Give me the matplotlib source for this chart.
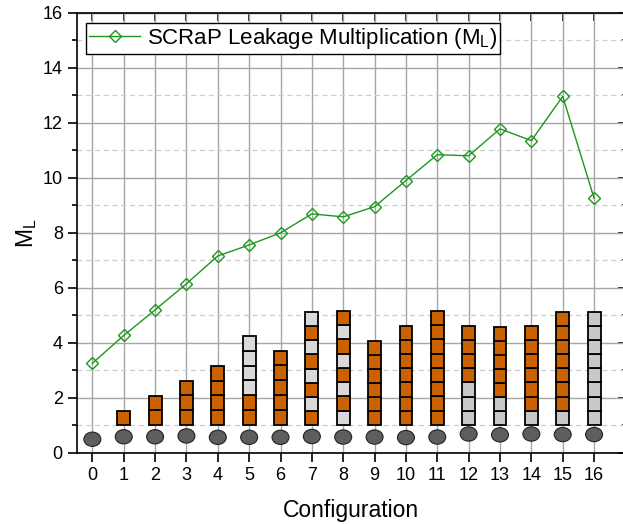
import matplotlib
matplotlib.use("Agg")
import matplotlib.pyplot as plt
from matplotlib.patches import Ellipse, Rectangle

plt.rcParams["font.family"] = ["Liberation Sans", "DejaVu Sans"]
plt.rcParams["mathtext.fontset"] = "custom"
plt.rcParams["mathtext.rm"] = "Liberation Sans"
plt.rcParams["mathtext.it"] = "Liberation Sans:italic"

# --- data ---
configs = list(range(17))
ml_values = [3.26, 4.27, 5.20, 6.15, 7.16, 7.56, 8.00, 8.69, 8.58,
             8.95, 9.90, 10.84, 10.80, 11.78, 11.35, 12.96, 9.26]

# dark disks below each stack
disk_levels = [0.50, 0.59, 0.59, 0.62, 0.57, 0.57, 0.57, 0.60, 0.58,
               0.58, 0.56, 0.58, 0.69, 0.66, 0.69, 0.67, 0.67]

# stacks of cells, listed bottom to top (O = orange, L = light grey, G = grey)
stack_base = 1.02
stack_tops = [1.02, 1.53, 2.07, 2.63, 3.17, 4.25, 3.72, 5.12, 5.17,
              4.08, 4.63, 5.17, 4.63, 4.57, 4.62, 5.14, 5.14]
stack_cells = ["", "O", "OO", "OOO", "OOOO", "OOLLLL", "OOOOO",
               "OLOLOLOL", "LOLOLOLO", "OOOOOO", "OOOOOOO", "OOOOOOOO",
               "GGGOOOO", "GGOOOOO", "GOOOOOO", "GOOOOOOO", "GGGGGGGG"]
cell_colors = {"O": "#cc6100", "L": "#d9d9d9", "G": "#c8c8c8"}

fig = plt.figure(figsize=(6.23, 5.24), dpi=100)
ax = fig.add_axes([0.1231, 0.1355, 0.8808, 0.8403])

# grid
ax.set_axisbelow(True)
ax.grid(axis="x", which="major", color="#a6a6a6", linewidth=1.0)
ax.grid(axis="y", which="major", color="#a6a6a6", linewidth=1.0)
ax.grid(axis="y", which="minor", color="#cccccc", linewidth=0.9, linestyle=(0, (4, 3)))

# cell stacks
cell_w = 0.41
for x, top, cells in zip(configs, stack_tops, stack_cells):
    if not cells:
        continue
    h = (top - stack_base) / len(cells)
    for i, c in enumerate(cells):
        ax.add_patch(Rectangle((x - cell_w / 2, stack_base + i * h), cell_w, h,
                               facecolor=cell_colors[c], edgecolor="black",
                               linewidth=1.3, zorder=2))

# disks
for x, y in zip(configs, disk_levels):
    ax.add_patch(Ellipse((x, y), 0.54, 0.52, facecolor="#5e5e5e",
                         edgecolor="#222222", linewidth=0.8, zorder=2))

# M_L curve
ax.plot(configs, ml_values, color="#1e961e", linewidth=1.0, marker="D",
        markersize=6.6, markerfacecolor="none", markeredgecolor="#1e961e",
        markeredgewidth=1.0, zorder=3,
        label="SCRaP Leakage Multiplication (M$_\\mathrm{L}$)")

ax.set_xlim(-0.5, 17)
ax.set_ylim(0, 16)
ax.set_xticks(configs)
ax.set_yticks(range(0, 17, 2))
ax.set_yticks(range(1, 16, 2), minor=True)

ax.tick_params(axis="both", which="major", direction="out", labelsize=13,
               width=1.2, length=6.5)
ax.tick_params(axis="y", which="minor", direction="out", width=1.2, length=3.5)
for s in ax.spines.values():
    s.set_linewidth(1.2)

# inward ticks on top and right
top = ax.secondary_xaxis("top")
top.set_xticks(configs)
top.tick_params(direction="in", length=6, width=1.2, labeltop=False)
right = ax.secondary_yaxis("right")
right.set_yticks(range(0, 17, 2))
right.set_yticks(range(1, 16, 2), minor=True)
right.tick_params(which="major", direction="in", length=5, width=1.2, labelright=False)
right.tick_params(which="minor", direction="in", length=2.5, width=1.2)

ax.set_xlabel("Configuration", fontsize=16.5, labelpad=11)
ax.set_ylabel("M$_\\mathrm{L}$", fontsize=16.5, labelpad=3)

leg = ax.legend(loc="upper left", bbox_to_anchor=(0.0164, 0.977), borderaxespad=0,
                fontsize=16, frameon=True, fancybox=False, framealpha=1,
                edgecolor="black", borderpad=0.15, handlelength=2.3,
                handletextpad=0.3)
leg.get_frame().set_linewidth(1.0)

fig.savefig("out.png", dpi=100)
